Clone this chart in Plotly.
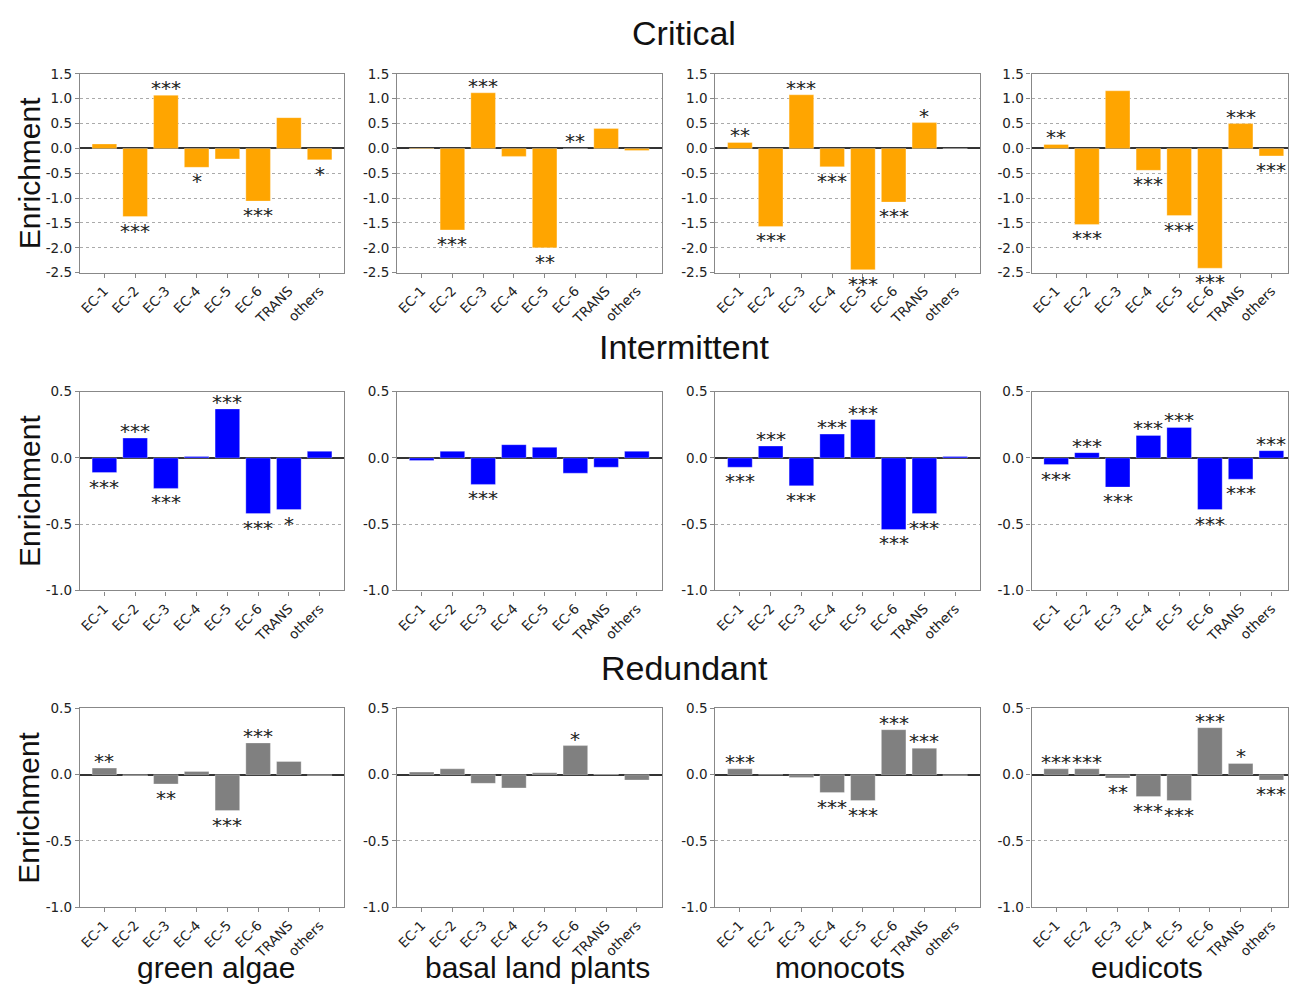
import plotly.graph_objects as go

# Categories and groups
categories = ["EC-1", "EC-2", "EC-3", "EC-4", "EC-5", "EC-6", "TRANS", "others"]
groups = ["green algae", "basal land plants", "monocots", "eudicots"]
classes = ["Critical", "Intermittent", "Redundant"]

# Enrichment values, one list per group (green algae, basal land plants, monocots, eudicots)
critical_vals = [
    [0.09, -1.37, 1.07, -0.38, -0.21, -1.06, 0.62, -0.23],
    [-0.01, -1.64, 1.12, -0.16, -2.00, 0.00, 0.40, -0.04],
    [0.12, -1.57, 1.08, -0.37, -2.44, -1.08, 0.52, 0.00],
    [0.08, -1.53, 1.16, -0.44, -1.35, -2.41, 0.50, -0.15],
]
intermittent_vals = [
    [-0.11, 0.15, -0.23, 0.01, 0.37, -0.42, -0.39, 0.05],
    [-0.02, 0.05, -0.20, 0.10, 0.08, -0.115, -0.07, 0.05],
    [-0.07, 0.09, -0.21, 0.18, 0.29, -0.54, -0.42, 0.01],
    [-0.05, 0.04, -0.22, 0.17, 0.23, -0.39, -0.16, 0.055],
]
redundant_vals = [
    [0.05, -0.01, -0.07, 0.025, -0.27, 0.24, 0.10, -0.005],
    [0.02, 0.045, -0.065, -0.10, 0.015, 0.22, 0.005, -0.04],
    [0.045, 0.00, -0.02, -0.135, -0.195, 0.34, 0.20, -0.005],
    [0.045, 0.045, -0.025, -0.165, -0.195, 0.355, 0.085, -0.04],
]

# Significance marks
critical_sig = [
    ["", "***", "***", "*", "", "***", "", "*"],
    ["", "***", "***", "", "**", "**", "", ""],
    ["**", "***", "***", "***", "***", "***", "*", ""],
    ["**", "***", "", "***", "***", "***", "***", "***"],
]
intermittent_sig = [
    ["***", "***", "***", "", "***", "***", "*", ""],
    ["", "", "***", "", "", "", "", ""],
    ["***", "***", "***", "***", "***", "***", "***", ""],
    ["***", "***", "***", "***", "***", "***", "***", "***"],
]
redundant_sig = [
    ["**", "", "**", "", "***", "***", "", ""],
    ["", "", "", "", "", "*", "", ""],
    ["***", "", "", "***", "***", "***", "***", ""],
    ["***", "***", "**", "***", "***", "***", "*", "***"],
]

row_vals = [critical_vals, intermittent_vals, redundant_vals]
row_sig = [critical_sig, intermittent_sig, redundant_sig]
row_colors = ["#FFA500", "#0000FF", "#808080"]
row_yrange = [[-2.5, 1.5], [-1.0, 0.5], [-1.0, 0.5]]
row_ticks = [[-2.5, -2.0, -1.5, -1.0, -0.5, 0.0, 0.5, 1.0, 1.5],
             [-1.0, -0.5, 0.0, 0.5],
             [-1.0, -0.5, 0.0, 0.5]]

W, H = 1289, 990
col_px = [(78, 343), (396, 662), (715, 980), (1032, 1289)]
row_px = [(67, 269), (390, 592), (712, 914)]
unit_px = 265 / 8.6

fig = go.Figure()
annotations = []
k = 0
for r in range(3):
    for c in range(4):
        k += 1
        xa = "x" if k == 1 else f"x{k}"
        ya = "y" if k == 1 else f"y{k}"
        x0, x1 = col_px[c]
        y0, y1 = row_px[r]
        vals = row_vals[r][c]
        sigs = row_sig[r][c]
        fig.add_trace(go.Bar(
            x=categories, y=vals, xaxis=xa, yaxis=ya,
            marker=dict(color=row_colors[r], line=dict(width=0.6, color="rgba(255,255,255,0.5)")),
            width=0.8, showlegend=False, hoverinfo="x+y",
        ))
        xr = [-0.8, -0.8 + (x1 - x0) / unit_px]
        axname = "xaxis" if k == 1 else f"xaxis{k}"
        ayname = "yaxis" if k == 1 else f"yaxis{k}"
        fig.layout[axname] = dict(
            domain=[x0 / W, x1 / W], anchor=ya, range=xr, type="category",
            tickangle=-45, tickfont=dict(family="DejaVu Sans", size=13.5, color="#222"),
            ticks="outside", ticklen=4, tickcolor="#888",
            showline=True, linecolor="#888", linewidth=1.2, mirror=True,
            showgrid=False, zeroline=False, fixedrange=True,
        )
        fig.layout[ayname] = dict(
            domain=[1 - y1 / H, 1 - y0 / H], anchor=xa, range=row_yrange[r],
            tickvals=row_ticks[r], ticktext=[f"{v:.1f}" for v in row_ticks[r]],
            tickfont=dict(family="DejaVu Sans", size=13.5, color="#222"),
            ticks="outside", ticklen=4, tickcolor="#888",
            showline=True, linecolor="#888", linewidth=1.2, mirror=True,
            showgrid=True, gridcolor="#aaaaaa", griddash="dot", gridwidth=1,
            zeroline=True, zerolinecolor="#333", zerolinewidth=1.6, fixedrange=True,
        )
        for cat, v, s in zip(categories, vals, sigs):
            if not s:
                continue
            up = v >= 0
            annotations.append(dict(
                x=cat, y=v, xref=xa, yref=ya, text=s, showarrow=False,
                yanchor="bottom" if up else "top", xanchor="center",
                yshift=-7 if up else 0,
                font=dict(family="DejaVu Sans", size=20, color="#222"),
            ))

# Row titles
title_y = [25, 345, 671]
for t, yy in zip(classes, title_y):
    annotations.append(dict(
        x=684 / W, y=1 - yy / H, xref="paper", yref="paper", text=t, showarrow=False,
        xanchor="center", yanchor="middle",
        font=dict(family="Liberation Sans, Arial", size=34, color="#111"),
    ))

# Y-axis labels
for (y0, y1) in row_px:
    annotations.append(dict(
        x=27 / W, y=1 - (y0 + y1) / 2 / H, xref="paper", yref="paper", text="Enrichment",
        showarrow=False, textangle=-90, xanchor="center", yanchor="middle",
        font=dict(family="Liberation Sans, Arial", size=30, color="#111"),
    ))

# Group labels along the bottom
group_x = [214, 537, 840, 1148]
for g, gx in zip(groups, group_x):
    annotations.append(dict(
        x=gx / W, y=1 - 975 / H, xref="paper", yref="paper", text=g, showarrow=False,
        xanchor="center", yanchor="middle",
        font=dict(family="Liberation Sans, Arial", size=30, color="#111"),
    ))

fig.update_layout(
    width=W, height=H, margin=dict(l=0, r=0, t=0, b=0),
    paper_bgcolor="white", plot_bgcolor="white",
    annotations=annotations, bargap=0.2,
)
fig.write_html("out.html")
